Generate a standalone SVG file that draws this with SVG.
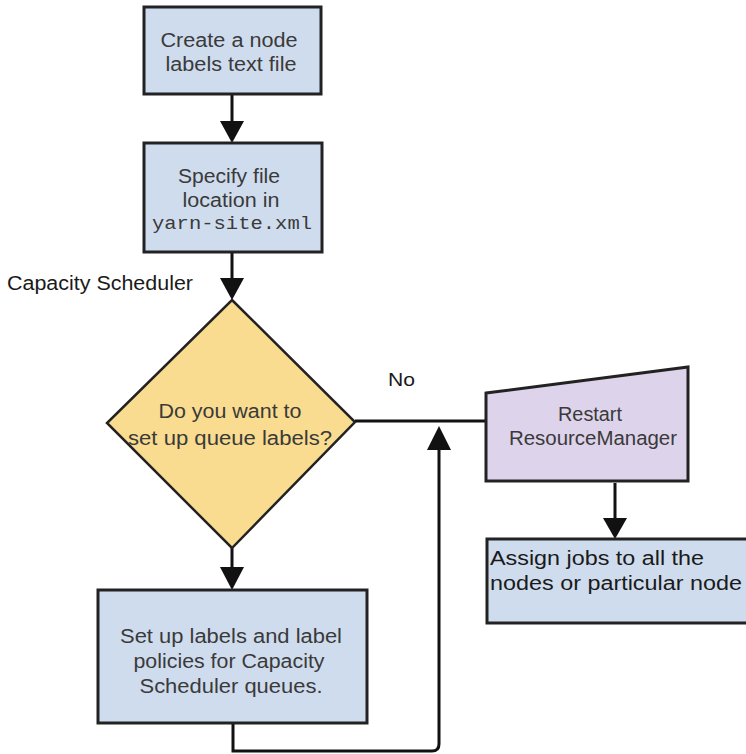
<svg xmlns="http://www.w3.org/2000/svg" width="746" height="754" viewBox="0 0 746 754">
<style>
.box{fill:#cfdcee;stroke:#222;stroke-width:3}
.dia{fill:#f9dc8f;stroke:#222;stroke-width:2.5}
.trap{fill:#ddd3ea;stroke:#222;stroke-width:3}
.t{font-family:"Liberation Sans",Arial,sans-serif;font-size:20px;fill:#3a3a3a;text-anchor:middle}
.m{font-family:"Liberation Mono","Courier New",monospace;font-size:19px;fill:#3a3a3a;text-anchor:middle}
.l{font-family:"Liberation Sans",Arial,sans-serif;font-size:20px;fill:#1a1a1a}
.c{fill:none;stroke:#111;stroke-width:3}
</style>
<rect width="746" height="754" fill="#fff"/>
<g id="connectors">
<line class="c" x1="232" y1="94" x2="232" y2="121"/>
<path d="M220,121 L244,121 L232,143 z" fill="#111"/>
<line class="c" x1="232" y1="252" x2="232" y2="278"/>
<path d="M220,278 L244,278 L232,300 z" fill="#111"/>
<line class="c" x1="355" y1="421" x2="486" y2="421"/>
<line class="c" x1="232" y1="548" x2="232" y2="567"/>
<path d="M220,567 L244,567 L232,590 z" fill="#111"/>
<path class="c" d="M233,723 L233,751 L432,751 Q439,751 439,744 L439,448"/>
<path d="M427,450 L451,450 L439,426 z" fill="#111"/>
<line class="c" x1="615" y1="483" x2="615" y2="518"/>
<path d="M603,518 L627,518 L615,539 z" fill="#111"/>
<text class="l" x="388" y="386" textLength="27" lengthAdjust="spacingAndGlyphs" style="font-size:19px">No</text>
</g>
<g id="n1">
<rect class="box" x="144" y="7" width="177" height="87"/>
<text class="t" x="229" y="47" textLength="137" lengthAdjust="spacingAndGlyphs">Create a node</text>
<text class="t" x="231" y="71" textLength="131" lengthAdjust="spacingAndGlyphs">labels text file</text>
</g>
<g id="n2">
<rect class="box" x="144" y="143" width="178" height="109"/>
<text class="t" x="229" y="183" textLength="102" lengthAdjust="spacingAndGlyphs">Specify file</text>
<text class="t" x="231" y="207" textLength="97" lengthAdjust="spacingAndGlyphs">location in</text>
<text class="m" x="232" y="229" textLength="160" lengthAdjust="spacingAndGlyphs">yarn-site.xml</text>
</g>
<g id="label">
<text class="l" x="7" y="290" textLength="186" lengthAdjust="spacingAndGlyphs">Capacity Scheduler</text>
</g>
<g id="n3">
<polygon class="dia" points="232,300 355,422 232,548 107,423"/>
<text class="t" x="230" y="418" textLength="143" lengthAdjust="spacingAndGlyphs">Do you want to</text>
<text class="t" x="230" y="445" textLength="204" lengthAdjust="spacingAndGlyphs">set up queue labels?</text>
</g>
<g id="n4">
<polygon class="trap" points="486,393 688,367 688,481 486,481"/>
<text class="t" x="590" y="421" textLength="64" lengthAdjust="spacingAndGlyphs">Restart</text>
<text class="t" x="593" y="445" textLength="168" lengthAdjust="spacingAndGlyphs">ResourceManager</text>
</g>
<g id="n5">
<rect class="box" x="487" y="539" width="262" height="84"/>
<text class="l" x="490" y="565" textLength="214" lengthAdjust="spacingAndGlyphs">Assign jobs to all the</text>
<text class="l" x="490" y="590" textLength="252" lengthAdjust="spacingAndGlyphs">nodes or particular node</text>
</g>
<g id="n6">
<rect class="box" x="98" y="590" width="269" height="133"/>
<text class="t" x="231" y="643" textLength="222" lengthAdjust="spacingAndGlyphs">Set up labels and label</text>
<text class="t" x="229" y="668" textLength="191" lengthAdjust="spacingAndGlyphs">policies for Capacity</text>
<text class="t" x="231" y="693" textLength="183" lengthAdjust="spacingAndGlyphs">Scheduler queues.</text>
</g>
</svg>
